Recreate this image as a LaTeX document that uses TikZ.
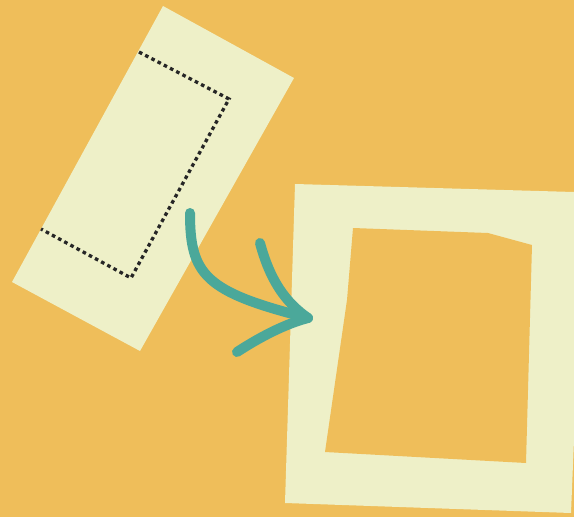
\documentclass[tikz,border=0pt]{standalone}
\definecolor{bgorange}{HTML}{EFBE5A}
\definecolor{paper}{HTML}{EEF0C8}
\definecolor{teal}{HTML}{4BA89A}
\tikzset{
  sheet/.style={fill=paper, draw=none},
  hole/.style={fill=bgorange, draw=none},
  cutline/.style={draw=black!85, line width=3.3pt, dash pattern=on 3.6pt off 3.4pt},
  stroke/.style={draw=teal, line width=10pt, line cap=round, line join=round}
}
\begin{document}
\begin{tikzpicture}[x=1pt,y=-1pt]
\fill[bgorange] (0,0) rectangle (574,517);
\useasboundingbox (0,0) rectangle (574,517);
% rotated sheet
\path[sheet] (163,6) -- (294,78) -- (140,351) -- (12,282) -- cycle;
% dotted cut line
\path[cutline] (139,52) -- (229,99) -- (131,278) -- (41,229);
% frame
\path[sheet] (295,184) -- (574,192) -- (574,440) -- (571,513) -- (285,503) -- cycle;
\path[hole] (353,228) -- (488,233) -- (532,245) -- (526,463) -- (325,452) -- (347,300) -- cycle;
% arrow
\coordinate (s) at (190,213);
\coordinate (tip) at (308,318);
\coordinate (ub) at (260,243);
\coordinate (lb) at (237,352);
\draw[stroke] (s) .. controls (190,275) and (205,292) .. (tip);
\draw[stroke] (ub) .. controls (270,280) and (285,302) .. (tip);
\draw[stroke] (lb) .. controls (260,337) and (285,324) .. (tip);
\end{tikzpicture}
\end{document}
